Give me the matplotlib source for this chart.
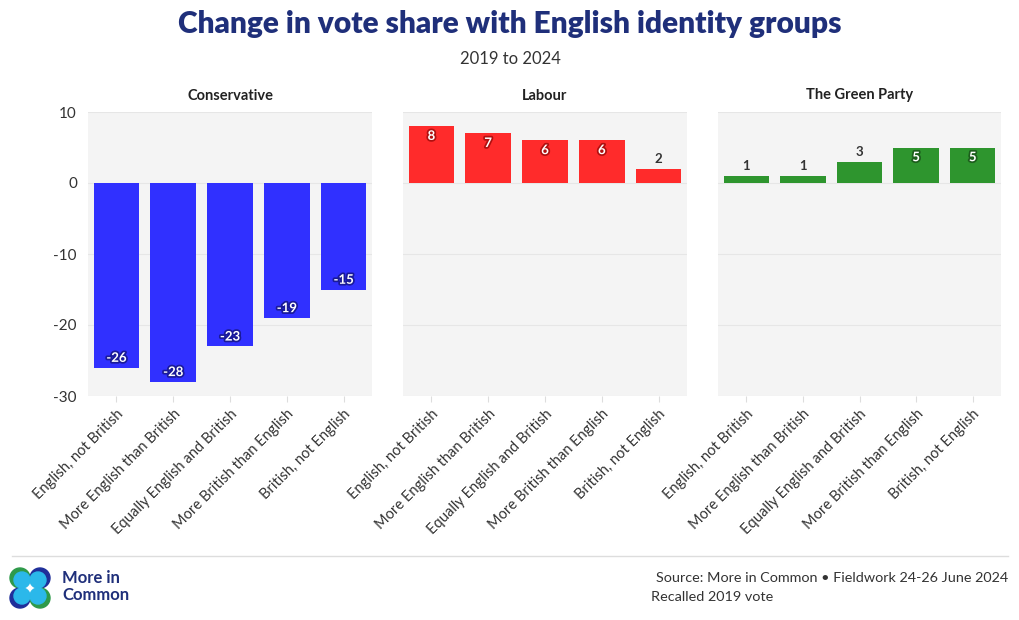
import matplotlib
matplotlib.use("Agg")
from matplotlib import pyplot as plt
from matplotlib.patches import Circle
import matplotlib.patheffects as pe
import numpy as np

plt.rcParams['font.family'] = ['Lato', 'DejaVu Sans']
plt.rcParams['axes.unicode_minus'] = False

# data
categories = ["English, not British", "More English than British",
              "Equally English and British", "More British than English",
              "British, not English"]
parties = ["Conservative", "Labour", "The Green Party"]
conservative = [-26, -28, -23, -19, -15]
labour = [8, 7, 6, 6, 2]
green = [1, 1, 3, 5, 5]
values = [conservative, labour, green]
colors = ["#3030ff", "#ff2b2b", "#2e952e"]
edge_dark = ["#1a1a99", "#b01010", "#1d5e1d"]

navy = "#1f2f7a"
text_dark = "#333333"

fig = plt.figure(figsize=(10.2, 6.2), dpi=100)
W, H = 1020, 620

panel_x = [(88, 372), (403, 687), (718, 1001)]
top, bottom = 112, 396

x = np.arange(len(categories))
for i, (x0, x1) in enumerate(panel_x):
    ax = fig.add_axes([x0 / W, 1 - bottom / H, (x1 - x0) / W, (bottom - top) / H])
    ax.set_facecolor("#f4f4f4")
    for s in ax.spines.values():
        s.set_visible(False)
    ax.set_ylim(-30, 10)
    ax.set_xlim(-0.5, len(categories) - 0.5)
    ax.set_yticks([-30, -20, -10, 0, 10])
    ax.yaxis.grid(True, color="#e6e6e6", linewidth=0.8)
    ax.set_axisbelow(True)
    ax.bar(x, values[i], width=0.8, color=colors[i], zorder=2)
    ax.set_xticks(x)
    ax.set_xticklabels(categories, rotation=45, ha="right", rotation_mode="anchor",
                       fontsize=10.5, color=text_dark)
    ax.tick_params(axis="x", length=4, color="#dddddd", pad=4)
    ax.tick_params(axis="y", length=0, labelsize=11, colors=text_dark, pad=8)
    if i > 0:
        ax.set_yticklabels([])
    ax.set_title(parties[i], fontsize=10.5, fontweight="bold", color="#222222", pad=9)

    for xi, v in zip(x, values[i]):
        sign = 1 if v >= 0 else -1
        if abs(v) >= 4:
            ax.annotate(str(v), (xi, v), xytext=(0, -7 * sign), textcoords="offset points",
                        ha="center", va="center", fontsize=9.5, fontweight="bold",
                        color="white", zorder=3,
                        path_effects=[pe.withStroke(linewidth=2.5, foreground=edge_dark[i])])
        else:
            ax.annotate(str(v), (xi, v), xytext=(0, 7 * sign), textcoords="offset points",
                        ha="center", va="center", fontsize=9.5, fontweight="bold",
                        color=text_dark, zorder=3)

# titles
fig.text(0.5, 1 - 24 / H, "Change in vote share with English identity groups",
         ha="center", va="center", fontsize=21.5, fontweight="heavy", color=navy)
fig.text(0.5, 1 - 59 / H, "2019 to 2024", ha="center", va="center",
         fontsize=12, color=text_dark)

# footer line
fig.add_artist(plt.Line2D([12 / W, 1008 / W], [1 - 556 / H, 1 - 556 / H],
                          color="#dddddd", linewidth=1))

fig.text(1008 / W, 1 - 578 / H, "Source: More in Common • Fieldwork 24-26 June 2024",
         ha="right", va="center", fontsize=10.4, color=text_dark)
fig.text(651 / W, 1 - 597 / H, "Recalled 2019 vote",
         ha="left", va="center", fontsize=10.4, color=text_dark)

# logo
lax = fig.add_axes([8 / W, 1 - 610 / H, 44 / W, 44 / H])
lax.set_xlim(0, 44)
lax.set_ylim(0, 44)
lax.set_aspect("equal")
lax.axis("off")
r = 10
for (cx, cy, col) in [(12, 32, "#2e9a4a"), (32, 32, "#1f2f9a"),
                      (12, 12, "#1f2f9a"), (32, 12, "#2e9a4a")]:
    lax.add_patch(Circle((cx, cy), r, color=col))
for (cx, cy) in [(14, 30), (30, 30), (14, 14), (30, 14)]:
    lax.add_patch(Circle((cx, cy), r - 2, color="#2bb8ea"))
fig.text(62 / W, 1 - 578 / H, "More in", ha="left", va="center",
         fontsize=12, fontweight="bold", color=navy)
fig.text(62 / W, 1 - 595 / H, "Common", ha="left", va="center",
         fontsize=12, fontweight="bold", color=navy)

fig.savefig("out.png", dpi=100)
